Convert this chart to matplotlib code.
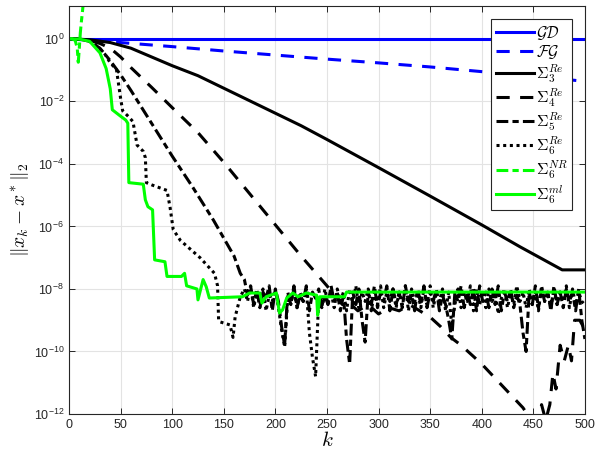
import numpy as np
import matplotlib
matplotlib.use('Agg')
import matplotlib.pyplot as plt

plt.rcParams['mathtext.fontset'] = 'cm'
plt.rcParams['font.family'] = ['Liberation Sans', 'DejaVu Sans']
plt.rcParams['lines.scale_dashes'] = False

# values are log10 of the error
k_gd = [0, 100, 200, 300, 400, 500]
e_gd = [0, 0, 0, 0, 0, 0]

k_fg = [0, 50, 100, 150, 200, 250, 300, 350, 400, 450, 500]
e_fg = [0, -0.12, -0.25, -0.39, -0.52, -0.65, -0.77, -0.9, -1.05, -1.2, -1.36]

k_s3 = [0, 20, 40, 60, 80, 100, 125, 150, 175, 200, 225, 250, 300, 350, 400, 437, 478, 500]
e_s3 = [0, -0.03, -0.12, -0.3, -0.58, -0.86, -1.18, -1.58, -1.98, -2.38, -2.78, -3.22,
        -4.12, -5.03, -5.95, -6.65, -7.39, -7.39]

k_s4 = [0, 10, 20, 30, 40, 50, 60, 80, 100, 125, 150, 175, 200, 225, 250, 255, 260, 265,
        270, 280, 290, 300, 310, 320, 330, 340, 350, 360, 370, 380, 390, 400, 410, 420,
        430, 440, 448, 455, 458, 462, 466, 469, 472, 476, 480, 484, 487, 490, 495, 500]
e_s4 = [0, -0.01, -0.05, -0.15, -0.3, -0.58, -0.92, -1.55, -2.2, -3.0, -3.95, -4.95,
        -5.95, -6.95, -7.9, -8.1, -8.3, -8.5, -8.4, -8.7, -8.5, -8.8, -8.6, -8.7, -8.5,
        -8.7, -8.9, -9.2, -9.55, -9.8, -10.1, -10.4, -10.75, -11.1, -11.45, -11.8, -12.2,
        -12.2, -11.7, -12.2, -11.7, -10.7, -11.2, -9.8, -10.3, -9.8, -10.3, -9.0, -9.0, -9.3]

k_s5 = [0, 10, 20, 30, 40, 50, 60, 80, 100, 120, 140, 160, 166] + list(range(170, 500, 3)) + [500]
e_s5 = [0, -0.01, -0.08, -0.3, -0.7, -1.15, -1.65, -2.7, -3.75, -4.75, -5.8, -6.95, -7.5,
        -7.7, -8.2, -7.9, -8.5, -8.0, -8.6, -8.1, -8.3, -7.9, -8.7,
        -8.0, -8.4, -9.2, -9.8, -8.1, -8.5, -7.9, -8.6, -8.2, -8.4,
        -7.9, -8.7, -8.1, -8.3, -8.0, -8.6, -8.2, -8.5, -7.9, -8.4,
        -8.1, -8.7, -8.2, -9.6, -10.4, -8.1, -8.5, -8.0, -9.0, -9.7,
        -8.1, -8.5, -7.9, -8.6, -8.1, -8.4, -7.9, -8.7, -8.0, -8.5,
        -8.1, -8.6, -7.9, -8.4, -8.2, -8.7, -8.0, -8.5, -7.9, -8.6,
        -8.1, -8.4, -8.0, -8.7, -8.2, -8.5, -9.0, -9.6, -8.1, -8.4,
        -7.9, -8.6, -8.1, -8.5, -8.0, -8.7, -7.9, -8.4, -8.1, -8.6,
        -8.0, -8.5, -7.9, -8.7, -8.1, -8.4, -8.0, -8.6, -8.2, -8.5,
        -9.4, -10.0, -8.1, -8.5, -7.9, -8.6, -8.0, -8.4, -8.1, -8.7,
        -7.9, -8.5, -8.1, -8.6, -8.0, -8.4, -8.1, -8.7, -8.0, -9.0,
        -9.6]

k_s6 = [0, 10, 20, 27, 35, 40, 46, 50, 52, 58, 62, 66, 72, 74, 75, 80, 95, 98, 101, 108,
        127, 141, 144, 145, 146, 156, 159, 161, 166] + list(range(170, 500, 3)) + [500]
e_s6 = [0, -0.01, -0.08, -0.24, -0.5, -0.77, -0.98, -1.9, -2.3, -2.5, -2.65, -3.4, -3.6,
        -3.8, -4.6, -4.67, -4.85, -5.4, -6.1, -6.45, -7.0, -7.5, -7.9, -9.0, -9.05, -9.15,
        -9.55, -8.9, -8.25,
        -8.0, -8.4, -7.9, -8.6, -8.1, -8.5, -8.0, -8.7, -8.2, -8.4,
        -8.0, -8.6, -9.3, -9.86, -8.3, -8.5, -8.0, -8.6, -8.1, -8.4,
        -8.0, -9.4, -10.2, -10.8, -8.3, -8.6, -8.0, -8.5, -8.1, -8.6,
        -8.0, -8.4, -8.1, -8.7, -8.0, -8.5, -7.9, -8.6, -8.1, -8.4,
        -8.0, -8.7, -8.1, -8.5, -7.9, -8.6, -8.1, -8.4, -8.0, -8.6,
        -8.1, -8.5, -7.9, -8.7, -8.0, -8.4, -8.1, -8.6, -8.0, -8.5,
        -7.9, -8.6, -8.1, -8.4, -8.0, -8.7, -8.1, -9.2, -8.5, -8.0,
        -8.6, -8.1, -8.4, -7.9, -8.7, -8.0, -8.5, -8.1, -8.6, -8.0,
        -8.4, -8.1, -8.8, -8.3, -8.0, -8.6, -8.1, -8.5, -7.9, -8.4,
        -8.1, -8.6, -8.0, -8.5, -8.1, -8.7, -7.9, -8.4, -8.1, -8.6,
        -8.0, -8.5, -8.1, -8.4, -7.9, -8.6, -8.0, -8.5, -8.1, -8.4,
        -8.5]

k_nr = [0, 3, 6, 8, 9, 10, 11, 12, 13, 14, 15]
e_nr = [0, 0, -0.05, -0.3, -0.75, -0.3, 0.2, 0.55, 0.85, 1.2, 1.6]

k_ml = [0, 10, 20, 30, 36, 40, 42, 49, 55, 57, 58, 72, 74, 76.5, 81, 83, 93, 95, 109, 112,
        114, 124, 125, 130, 133, 136, 168, 175, 185, 187, 191, 201, 204, 207, 211, 217, 222,
        230, 240, 241, 243, 267, 269, 500]
e_ml = [0, -0.01, -0.08, -0.45, -0.95, -1.6, -2.27, -2.45, -2.6, -2.7, -4.6, -4.65, -5.15,
        -5.37, -5.47, -7.07, -7.13, -7.6, -7.6, -7.5, -7.9, -8.0, -8.35, -7.7, -7.93, -8.29,
        -8.25, -8.13, -8.13, -8.45, -8.25, -8.13, -8.77, -8.67, -8.29, -8.13, -8.25, -8.13,
        -8.2, -8.84, -8.25, -8.25, -8.1, -8.1]

labels = [r'$\mathcal{GD}$', r'$\mathcal{FG}$', r'$\Sigma_3^{Re}$', r'$\Sigma_4^{Re}$',
          r'$\Sigma_5^{Re}$', r'$\Sigma_6^{Re}$', r'$\Sigma_6^{NR}$', r'$\Sigma_6^{ml}$']

dash = (9.5, 7.5)
dashdot = (8.5, 3.0, 4.5, 3.0)
dot = (2.2, 2.6)

fig = plt.figure(figsize=(6.02, 4.59), dpi=100)
ax = fig.add_axes([0.1146, 0.098, 0.857, 0.889])

lw = 2.2
ax.semilogy(k_gd, 10.0 ** np.array(e_gd), color='b', lw=lw, label=labels[0])
ax.semilogy(k_fg, 10.0 ** np.array(e_fg), color='b', lw=lw, dashes=dash, label=labels[1])
ax.semilogy(k_s3, 10.0 ** np.array(e_s3), color='k', lw=lw, label=labels[2])
ax.semilogy(k_s4, 10.0 ** np.array(e_s4), color='k', lw=lw, dashes=dash, label=labels[3])
ax.semilogy(k_s5, 10.0 ** np.array(e_s5), color='k', lw=lw, dashes=dashdot, label=labels[4])
ax.semilogy(k_s6, 10.0 ** np.array(e_s6), color='k', lw=lw, dashes=dot, label=labels[5])
ax.semilogy(k_nr, 10.0 ** np.array(e_nr), color=(0, 1, 0), lw=lw, dashes=dashdot, label=labels[6])
ax.semilogy(k_ml, 10.0 ** np.array(e_ml), color=(0, 1, 0), lw=lw, label=labels[7])

ax.set_xlim(0, 500)
ax.set_ylim(1e-12, 10 ** 1.05)
ax.set_xticks(np.arange(0, 501, 50))
ax.set_yticks([10.0 ** p for p in range(-12, 1, 2)])
ax.yaxis.set_minor_locator(matplotlib.ticker.NullLocator())
ax.grid(True, color='#e3e3e3', lw=0.8)
ax.set_axisbelow(True)
ax.tick_params(direction='in', top=True, right=True, length=4, width=0.7,
               labelsize=9, colors='#262626')
for s in ax.spines.values():
    s.set_linewidth(0.8)
    s.set_color('#262626')

ax.set_xlabel(r'$k$', fontsize=15, labelpad=0)
ax.set_ylabel(r'$\|x_k - x^*\|_2$', fontsize=14, labelpad=2)

leg = ax.legend(loc='upper right', fontsize=11.5, handlelength=2.4, handletextpad=0.1,
                labelspacing=0.1, borderpad=0.3, borderaxespad=0.8, fancybox=False,
                framealpha=1, edgecolor='#262626')
leg.get_frame().set_linewidth(0.8)

fig.savefig('out.png', dpi=100)
